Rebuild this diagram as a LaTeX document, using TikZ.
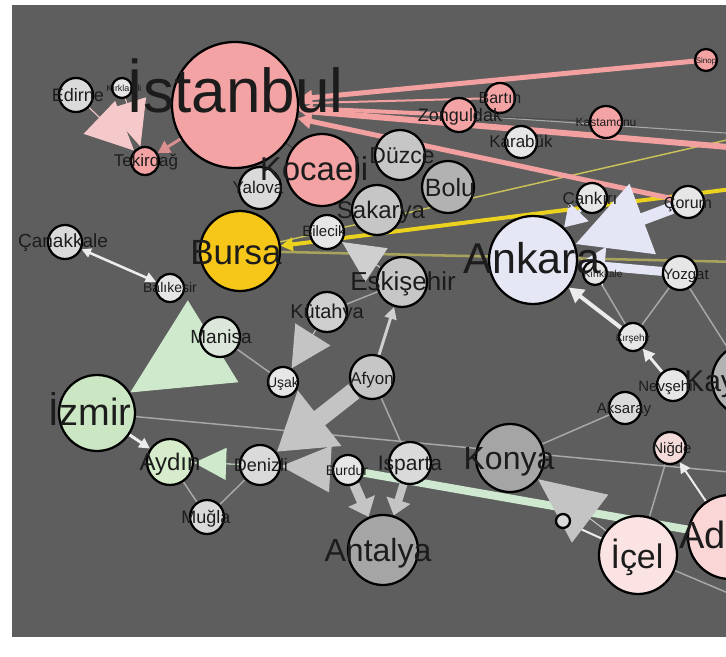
\documentclass[tikz,border=0pt]{standalone}
\usepackage{fontspec}
\setmainfont{Liberation Sans}
\usetikzlibrary{arrows.meta}
\pgfdeclarelayer{edges}
\pgfsetlayers{edges,main}
\newcommand\px[1]{\fontsize{\fpeval{0.75*#1}}{\fpeval{0.9*#1}}\selectfont}
\definecolor{bg}{HTML}{5E5E5E}
\definecolor{txt}{HTML}{1C1C1C}
\definecolor{pinkA}{HTML}{F3A3A3}
\definecolor{lightA}{HTML}{DADADA}
\definecolor{lightB}{HTML}{E6E6E6}
\definecolor{grayB}{HTML}{C6C6C6}
\definecolor{grayK}{HTML}{CFCFCF}
\definecolor{grayC}{HTML}{B2B2B2}
\definecolor{grayD}{HTML}{A5A5A5}
\definecolor{yellowN}{HTML}{F6C619}
\definecolor{manC}{HTML}{DDE6DA}
\definecolor{izmC}{HTML}{CBE6C2}
\definecolor{aydC}{HTML}{D6ECCA}
\definecolor{ankC}{HTML}{E6E7F5}
\definecolor{nigC}{HTML}{F5DADA}
\definecolor{adaC}{HTML}{FAD6D6}
\definecolor{iceC}{HTML}{FBE3E3}
\definecolor{pinkE}{HTML}{F2A0A0}
\definecolor{pinkL}{HTML}{F5C9C9}
\definecolor{yelE}{HTML}{EBD21E}
\definecolor{yelT}{HTML}{C9C25A}
\definecolor{olvE}{HTML}{A8A45E}
\definecolor{thinE}{HTML}{A8A8A8}
\definecolor{whtE}{HTML}{ECECEC}
\definecolor{lavE}{HTML}{E4E6F6}
\definecolor{grnE}{HTML}{CFE9CC}
\definecolor{mintE}{HTML}{CFE8D0}
\definecolor{grayE}{HTML}{C4C4C4}
\tikzset{
  city/.style={circle, draw=black, line width=1.7pt, inner sep=0pt, minimum size=1.5*#1pt},
  lbl/.style={anchor=base, inner sep=0pt, text=txt},
  thin edge/.style={draw=thinE, line width=1.1pt},
}
\begin{document}
\begin{tikzpicture}[x=0.75pt,y=-0.75pt]
\useasboundingbox (0,0) rectangle (726,657);
% ---------- nodes (circles) ----------
\node[city=63, fill=pinkA] (ist) at (235,105) {};
\node[city=36, fill=pinkA] (koc) at (322,170) {};
\node[city=25, fill=grayB] (duz) at (400,155) {};
\node[city=26, fill=grayC] (bolu) at (448,187) {};
\node[city=25, fill=grayB] (sak) at (377,210) {};
\node[city=21, fill=lightA] (yal) at (260,188) {};
\node[city=17, fill=lightB] (bil) at (327,232) {};
\node[city=40, fill=yellowN] (bur) at (240,251) {};
\node[city=17, fill=lightA] (can) at (65,242) {};
\node[city=14, fill=lightB] (bal) at (170,288) {};
\node[city=20, fill=manC] (man) at (220,337) {};
\node[city=15, fill=lightB] (usak) at (283,382) {};
\node[city=20, fill=grayK] (kut) at (327,312) {};
\node[city=25, fill=grayB] (esk) at (402,282) {};
\node[city=22, fill=grayB] (afy) at (372,377) {};
\node[city=38, fill=izmC] (izm) at (97,413) {};
\node[city=23, fill=aydC] (ayd) at (170,462) {};
\node[city=17, fill=lightA] (mug) at (207,517) {};
\node[city=20, fill=lightA] (den) at (260,465) {};
\node[city=15, fill=lightB] (brd) at (348,470) {};
\node[city=21, fill=lightA] (isp) at (410,463) {};
\node[city=35, fill=grayD] (ant) at (383,550) {};
\node[city=34, fill=grayD] (kon) at (510,458) {};
\node[city=44, fill=ankC] (ank) at (533,260) {};
\node[city=12, fill=lightB] (kirk) at (595,273) {};
\node[city=15, fill=lightB] (cank) at (592,198) {};
\node[city=16, fill=lightB] (cor) at (688,202) {};
\node[city=17, fill=lightB] (yoz) at (680,273) {};
\node[city=14, fill=lightB] (kirs) at (633,337) {};
\node[city=16, fill=lightB] (nev) at (673,385) {};
\node[city=36, fill=grayC] (kay) at (748,380) {};
\node[city=16, fill=lightA] (aks) at (625,408) {};
\node[city=16, fill=nigC] (nig) at (670,448) {};
\node[city=42, fill=adaC] (ada) at (730,537) {};
\node[city=39, fill=iceC] (ice) at (638,555) {};
\node[city=7, fill=lightA] (kar) at (563,521) {};
\node[city=17, fill=pinkA] (zon) at (459,115) {};
\node[city=15, fill=pinkA] (bart) at (500,98) {};
\node[city=16, fill=lightB] (krb) at (521,142) {};
\node[city=16, fill=pinkA] (kast) at (606,122) {};
\node[city=11, fill=pinkA] (sin) at (706,60) {};
\node[city=14, fill=pinkA] (tek) at (145,161) {};
\node[city=17, fill=lightA] (edi) at (76,95) {};
\node[city=10, fill=lightB] (kkl) at (122,88) {};
\coordinate (eastA) at (740,148);
\coordinate (eastB) at (740,188);
\coordinate (eastC) at (740,137);
\coordinate (eastD) at (740,262);
\coordinate (eastE) at (740,473);
\coordinate (eastF) at (740,598);
\coordinate (eastG) at (740,134);
% ---------- edges (behind the circles) ----------
\begin{pgfonlayer}{edges}
\fill[white] (0,0) rectangle (726,657);
\fill[bg] (12,5) rectangle (726,637);
% thin grey links
\draw[thin edge] (izm) -- (eastE);
\draw[thin edge] (man) -- (usak);
\draw[thin edge] (ayd) -- (mug);
\draw[thin edge] (mug) -- (den);
\draw[thin edge] (afy) -- (isp);
\draw[thin edge] (kut) -- (esk);
\draw[thin edge] (kon) -- (aks);
\draw[thin edge] (kirs) -- (kirk);
\draw[thin edge] (kirs) -- (yoz);
\draw[thin edge] (yoz) -- (kay);
\draw[thin edge] (nig) -- (ice);
\draw[thin edge] (ice) -- (eastF);
\draw[draw=thinE, line width=0.8pt] (zon) -- (eastG);
\draw[draw=black!70, line width=0.8pt] (zon) -- (kast);
% yellow / olive links from Bursa
\draw[draw=olvE, line width=1.9pt] (bur) -- (eastD);
\draw[draw=yelT, line width=1.1pt] (bur) -- (eastC);
\draw[draw=yelE, line width=3pt, -{Triangle[length=9pt,width=10pt]}] (eastB) -- (bur);
% pink links to Istanbul
\draw[draw=pinkE, line width=1.5pt] (bart) -- (ist);
\draw[draw=pinkE, line width=3pt] (zon) -- (ist);
\draw[draw=pinkE, line width=3.75pt, -{Triangle[length=10pt,width=11pt]}] (sin) -- (ist);
\draw[draw=pinkE, line width=4.5pt, -{Triangle[length=10pt,width=12pt]}] (eastA) -- (ist);
\draw[draw=pinkE, line width=3.75pt, -{Triangle[length=10pt,width=11pt]}] (cor) -- (ist);
\draw[draw=black!75, line width=0.9pt] (koc) -- (ist);
% Thrace
\draw[draw=pinkL, fill=pinkL, line width=0.8pt, -{Triangle[length=36pt,width=34pt]}] (edi) -- (tek);
\draw[draw=pinkL, fill=pinkL, line width=0.8pt, -{Triangle[length=34pt,width=30pt]}] (kkl) -- (tek);
\draw[draw=pinkE!90!black, line width=2.2pt, -{Triangle[length=9pt,width=10pt]}] (ist) -- (tek);
% white arrows
\draw[draw=whtE, line width=1.9pt, {Triangle[length=7pt,width=7pt]}-{Triangle[length=8pt,width=8pt]}] (can) -- (bal);
\draw[draw=whtE, line width=2.2pt, -{Triangle[length=8pt,width=8pt]}] (izm) -- (ayd);
\draw[draw=grayE!80!white, line width=2.2pt, -{Triangle[length=9pt,width=9pt]}] (afy) -- (esk);
\draw[draw=whtE, line width=3pt, -{Triangle[length=11pt,width=12pt]}] (kirs) -- (ank);
\draw[draw=whtE, line width=2.2pt, -{Triangle[length=9pt,width=9pt]}] (nev) -- (kirs);
\draw[draw=whtE, line width=1.5pt, -{Triangle[length=8pt,width=8pt]}] (ada) -- (nig);
\draw[draw=whtE, line width=1.5pt, -{Triangle[length=8pt,width=8pt]}] (ice) -- (kar);
% lavender arrows into Ankara
\draw[draw=lavE, fill=lavE, line width=9pt, -{Triangle[length=54pt,width=54pt]}] (cor) -- (ank);
\draw[draw=lavE, fill=lavE, line width=2.2pt, -{Triangle[length=16pt,width=20pt]}] (cank) -- (ank);
\draw[draw=lavE, fill=lavE, line width=6.7pt, -{Triangle[length=20pt,width=28pt]}] (yoz) -- (ank);
% green arrows
\draw[draw=mintE, line width=6pt] (ada) -- (brd);
\draw[draw=grnE, fill=grnE, line width=0.8pt, -{Triangle[length=73pt,width=72pt]}] (man.center) -- (izm);
\draw[draw=grnE, fill=grnE, line width=0.8pt, -{Triangle[length=24pt,width=24pt]}] (den) -- (ayd);
% grey arrows
\draw[draw=grayE, fill=grayE, line width=13.5pt, -{Triangle[length=41pt,width=50pt]}] (afy) -- (den);
\draw[draw=grayE, fill=grayE, line width=0.8pt, -{Triangle[length=30pt,width=31pt]}] (kut) -- (usak);
\draw[draw=grayE, fill=grayE, line width=0.8pt, -{Triangle[length=37pt,width=35pt]}] (brd) -- (den);
\draw[draw=grayK, fill=grayK, line width=0.8pt, -{Triangle[length=31pt,width=30pt]}] (esk) -- (bil);
\draw[draw=grayE, fill=grayE, line width=7.5pt, -{Triangle[length=13pt,width=21pt]}] (brd) -- (ant);
\draw[draw=grayE, fill=grayE, line width=6pt, -{Triangle[length=12pt,width=18pt]}] (isp) -- (ant);
\draw[draw=grayE, fill=grayE, line width=0.8pt, -{Triangle[length=49pt,width=45pt]}] (ice) -- (kon);
\end{pgfonlayer}
% ---------- labels ----------
\node[lbl, font=\px{62}] (ist-t) at (235,112) {İstanbul};
\node[lbl, font=\px{33}] (koc-t) at (314,180) {Kocaeli};
\node[lbl, font=\px{23}] (duz-t) at (402,163) {Düzce};
\node[lbl, font=\px{25}] (bolu-t) at (450,196) {Bolu};
\node[lbl, font=\px{24}] (sak-t) at (381,218) {Sakarya};
\node[lbl, font=\px{17}] (yal-t) at (258,193) {Yalova};
\node[lbl, font=\px{15}] (bil-t) at (324,236) {Bilecik};
\node[lbl, font=\px{35}] (bur-t) at (236,264) {Bursa};
\node[lbl, font=\px{19}] (can-t) at (63,247) {Çanakkale};
\node[lbl, font=\px{14}] (bal-t) at (170,292) {Balıkesir};
\node[lbl, font=\px{19}] (man-t) at (221,343) {Manisa};
\node[lbl, font=\px{14}] (usak-t) at (283,387) {Uşak};
\node[lbl, font=\px{20}] (kut-t) at (327,318) {Kütahya};
\node[lbl, font=\px{26}] (esk-t) at (403,290) {Eskişehir};
\node[lbl, font=\px{17}] (afy-t) at (372,384) {Afyon};
\node[lbl, font=\px{38}] (izm-t) at (90,425) {İzmir};
\node[lbl, font=\px{24}] (ayd-t) at (170,470) {Aydın};
\node[lbl, font=\px{18}] (mug-t) at (206,523) {Muğla};
\node[lbl, font=\px{18}] (den-t) at (261,471) {Denizli};
\node[lbl, font=\px{14}] (brd-t) at (347,475) {Burdur};
\node[lbl, font=\px{21}] (isp-t) at (410,470) {Isparta};
\node[lbl, font=\px{32}] (ant-t) at (378,561) {Antalya};
\node[lbl, font=\px{32}] (kon-t) at (509,469) {Konya};
\node[lbl, font=\px{43}] (ank-t) at (532,273) {Ankara};
\node[lbl, font=\px{10}] (kirk-t) at (603,277) {Kırıkkale};
\node[lbl, font=\px{17}] (cank-t) at (590,204) {Çankırı};
\node[lbl, font=\px{16}] (cor-t) at (688,208) {Çorum};
\node[lbl, font=\px{15}] (yoz-t) at (686,279) {Yozgat};
\node[lbl, font=\px{10}] (kirs-t) at (633,341) {Kırşehir};
\node[lbl, font=\px{15}] (nev-t) at (668,391) {Nevşehir};
\node[lbl, font=\px{30}, anchor=base west] (kay-t) at (684,391) {Kayseri};
\node[lbl, font=\px{15}] (aks-t) at (624,413) {Aksaray};
\node[lbl, font=\px{15}] (nig-t) at (672,453) {Niğde};
\node[lbl, font=\px{38}, anchor=base west] (ada-t) at (679,548) {Adana};
\node[lbl, font=\px{34}] (ice-t) at (637,568) {İçel};
\node[lbl, font=\px{18}] (zon-t) at (460,121) {Zonguldak};
\node[lbl, font=\px{16}] (bart-t) at (500,103) {Bartın};
\node[lbl, font=\px{17}] (krb-t) at (521,147) {Karabük};
\node[lbl, font=\px{12}] (kast-t) at (606,126) {Kastamonu};
\node[lbl, font=\px{8}] (sin-t) at (706,63) {Sinop};
\node[lbl, font=\px{17}] (tek-t) at (146,166) {Tekirdağ};
\node[lbl, font=\px{18}] (edi-t) at (78,101) {Edirne};
\node[lbl, font=\px{9}] (kkl-t) at (124,91) {Kırklareli};
\end{tikzpicture}
\end{document}
